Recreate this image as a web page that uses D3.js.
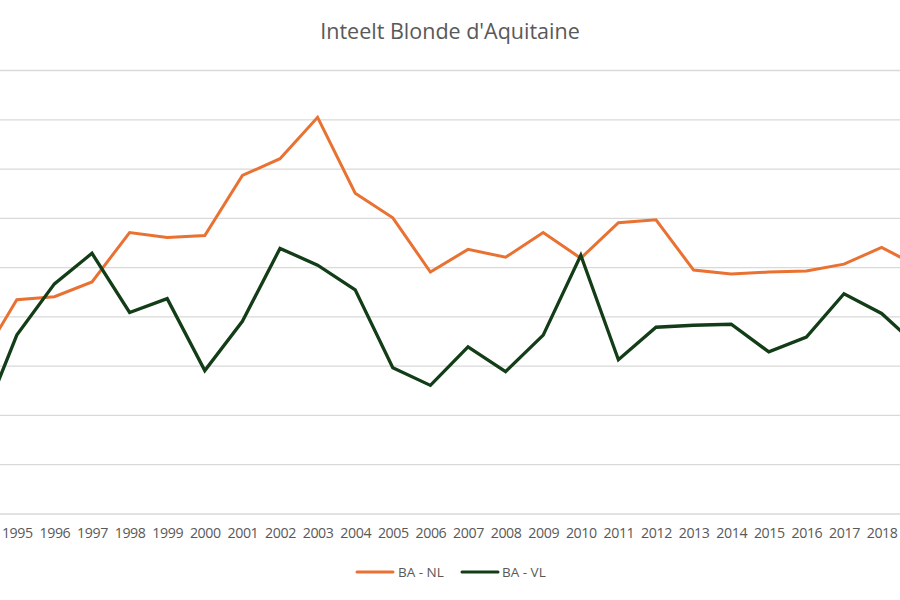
<!DOCTYPE html>
<html>
<head>
<meta charset="utf-8">
<script src="https://cdn.jsdelivr.net/npm/d3@7"></script>
<style>
  html, body { margin: 0; padding: 0; background: #fff; }
  svg { display: block; font-family: "Open Sans", "Noto Sans", sans-serif; }
</style>
</head>
<body>
<svg id="chart" width="900" height="600"></svg>
<script>
const years = [1994, 1995, 1996, 1997, 1998, 1999, 2000, 2001, 2002, 2003, 2004, 2005, 2006,
               2007, 2008, 2009, 2010, 2011, 2012, 2013, 2014, 2015, 2016, 2017, 2018, 2019];
const yearLabels = [1995, 1996, 1997, 1998, 1999, 2000, 2001, 2002, 2003, 2004, 2005, 2006,
                    2007, 2008, 2009, 2010, 2011, 2012, 2013, 2014, 2015, 2016, 2017, 2018];
const baNL = [1.53, 2.17, 2.20, 2.35, 2.85, 2.80, 2.82, 3.43, 3.60, 4.02, 3.25, 3.00, 2.45,
              2.68, 2.60, 2.85, 2.59, 2.95, 2.98, 2.47, 2.43, 2.45, 2.46, 2.53, 2.70, 2.50];
const baVL = [0.86, 1.81, 2.33, 2.64, 2.04, 2.18, 1.45, 1.95, 2.69, 2.52, 2.27, 1.48, 1.30,
              1.69, 1.44, 1.81, 2.62, 1.56, 1.89, 1.91, 1.92, 1.64, 1.79, 2.23, 2.03, 1.68];
const seriesNames = ["BA - NL", "BA - VL"];
const seriesColors = ["#E97132", "#123d17"];
const yTicks = [0, 0.5, 1, 1.5, 2, 2.5, 3, 3.5, 4, 4.5];
const title = "Inteelt Blonde d'Aquitaine";

const svg = d3.select("#chart");
const W = 900, H = 600;

const x = d3.scalePoint().domain(years).range([-20.8, 919.2]);
const y = d3.scaleLinear().domain([0, 4.5]).range([513.5, 70]);

// gridlines
const grid = svg.append("g").attr("class", "grid")
  .call(d3.axisLeft(y).tickValues(yTicks).tickSize(-W).tickFormat(""));
grid.select(".domain").remove();
grid.selectAll("line").attr("stroke", "#d9d9d9").attr("stroke-width", 1.3);

// x axis labels
const xa = svg.append("g").attr("transform", "translate(0,513.5)")
  .call(d3.axisBottom(x).tickValues(yearLabels).tickSize(0).tickPadding(14).tickFormat(d3.format("d")));
xa.select(".domain").remove();
xa.selectAll("text").attr("fill", "#595959").style("font-size", "14.2px")
  .style("font-family", "'Open Sans', sans-serif").attr("letter-spacing", "-0.4");

// lines
const data = [baNL, baVL];
const line = d3.line().x((d, i) => x(years[i])).y(d => y(d));
data.forEach((s, k) => {
  svg.append("path").datum(s)
    .attr("fill", "none")
    .attr("stroke", seriesColors[k])
    .attr("stroke-width", k === 0 ? 3 : 3.3)
    .attr("stroke-linejoin", "miter")
    .attr("d", line);
});

// title
svg.append("text").attr("x", 450).attr("y", 39).attr("text-anchor", "middle")
  .attr("fill", "#595959").style("font-size", "21.5px").text(title);

// legend
const legendPos = [{lx: 357, tx: 398}, {lx: 462, tx: 502}];
seriesNames.forEach((n, k) => {
  svg.append("line").attr("x1", legendPos[k].lx).attr("x2", legendPos[k].lx + 36)
    .attr("y1", 572).attr("y2", 572)
    .attr("stroke", seriesColors[k]).attr("stroke-width", 3).attr("stroke-linecap", "round");
  svg.append("text").attr("x", legendPos[k].tx).attr("y", 577)
    .attr("fill", "#595959").style("font-size", "13.5px").text(n);
});
</script>
</body>
</html>
